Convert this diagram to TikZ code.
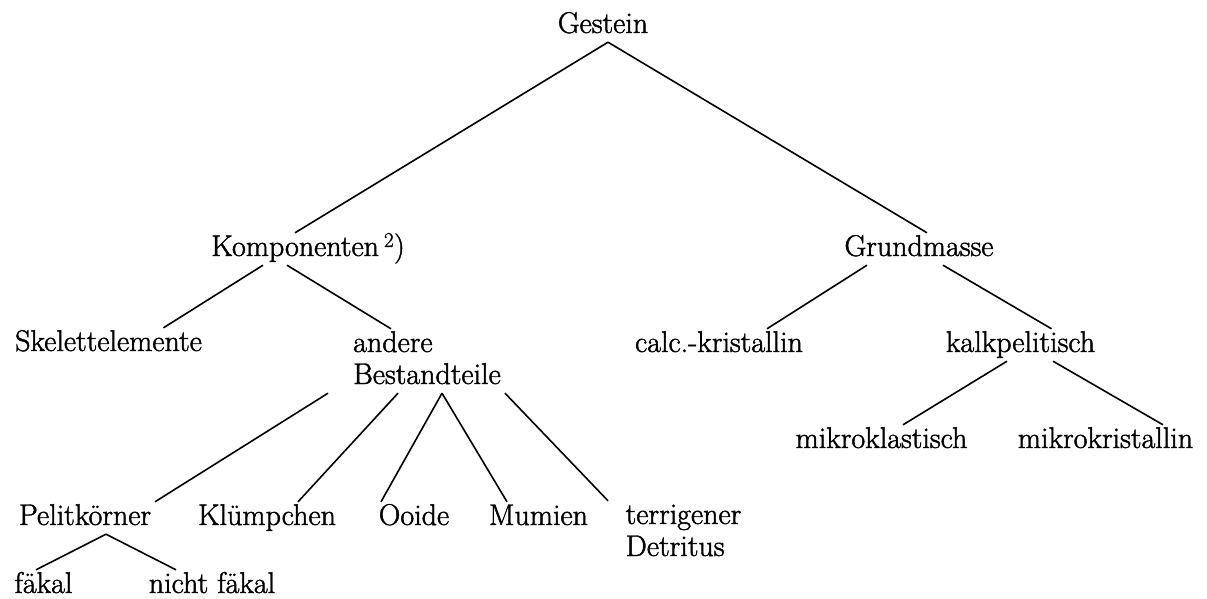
\documentclass[tikz,border=0pt]{standalone}
\usepackage{fontspec}
\setmainfont{Latin Modern Roman}[FakeBold=1.5]
\usepackage{tikz}
\tikzset{word/.style = {inner xsep = 0, inner ysep = 3pt,
                        text height = 20pt, text depth = 6pt, anchor = base}}
\tikzset{twoline/.style = {word, align = left, text height = 52pt}}
\tikzset{twig/.style = {line width = 1.6pt}}

\begin{document}
\begin{tikzpicture}[x=1pt, y=-1pt, font=\fontsize{30}{32}\selectfont]
      \useasboundingbox (0, 0) rectangle (1207, 599);

      \node [word] (gestein) at (603, 33) {Gestein};
      \node [word] (komp) at (308, 256) {Komponenten\,\textsuperscript{2})};
      \node [word] (grund) at (919, 256) {Grundmasse};

      \node [word] (skel) at (108.5, 351) {Skelettelemente};
      \node [twoline] (best) at (427, 384) {andere\\Bestandteile};
      \node [word] (calc) at (719, 352) {calc.-kristallin};
      \node [word] (kalk) at (1020.5, 352) {kalkpelitisch};

      \node [word] (mikrokl) at (881.5, 448) {mikroklastisch};
      \node [word] (mikrokr) at (1105.5, 448) {mikrokristallin};

      \node [word] (pelit) at (85, 525) {Pelitkörner};
      \node [word] (kluemp) at (267, 525) {Klümpchen};
      \node [word] (ooide) at (414, 525) {Ooide};
      \node [word] (mumien) at (538.5, 525) {Mumien};
      \node [twoline] (terr) at (683.5, 556) {terrigener\\Detritus};

      \node [word] (faekal) at (43.5, 593) {fäkal};
      \node [word] (nicht) at (212, 593) {nicht fäkal};

      \draw [twig] ([xshift=5]gestein.south) -- ([xshift=-13]komp.north);
      \draw [twig] ([xshift=5]gestein.south) -- ([xshift=8]grund.north);

      \draw [twig] ([xshift=-45]komp.south) -- ([xshift=55]skel.north);
      \draw [twig] ([xshift=-21]komp.south) -- ([xshift=-36]best.north);
      \draw [twig] ([xshift=-52]grund.south) -- ([xshift=48]calc.north);
      \draw [twig] ([xshift=24]grund.south) -- ([xshift=31]kalk.north);

      \draw [twig] ([xshift=-13.5]kalk.south) -- ([xshift=21.5]mikrokl.north);
      \draw [twig] ([xshift=32.5]kalk.south) -- ([xshift=57.5]mikrokr.north);

      \draw [twig] ([xshift=-99]best.south) -- ([xshift=70]pelit.north);
      \draw [twig] ([xshift=-29]best.south) -- ([xshift=31]kluemp.north);
      \draw [twig] ([xshift=15]best.south) -- ([xshift=-33]ooide.north);
      \draw [twig] ([xshift=15]best.south) -- ([xshift=-31.5]mumien.north);
      \draw [twig] ([xshift=78]best.south) -- ([xshift=-75.5]terr.north);

      \draw [twig] ([xshift=21]pelit.south) -- ([xshift=-7.5]faekal.north);
      \draw [twig] ([xshift=21]pelit.south) -- ([xshift=-36]nicht.north);
\end{tikzpicture}
\end{document}
